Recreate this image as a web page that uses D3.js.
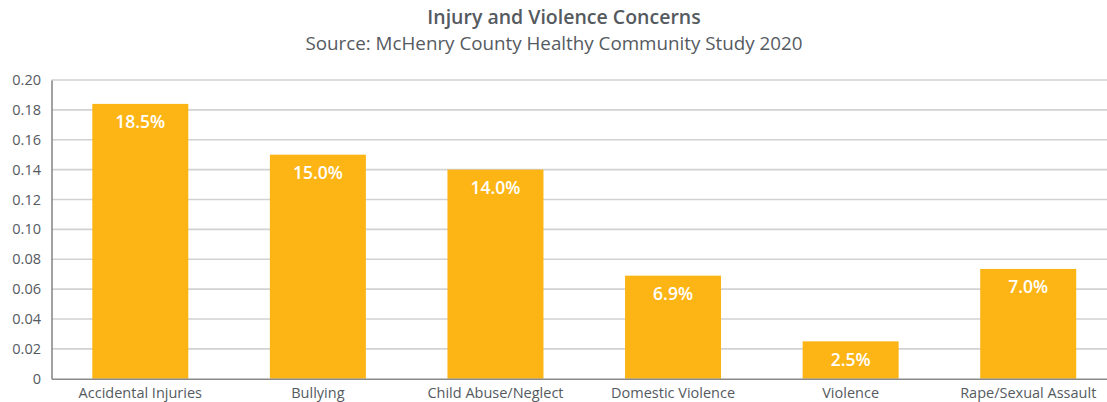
<!DOCTYPE html>
<html>
<head>
<meta charset="utf-8">
<script src="https://cdn.jsdelivr.net/npm/d3@7"></script>
<style>
  html, body { margin: 0; padding: 0; background: #fff; }
  svg { display: block; }
</style>
</head>
<body>
<svg id="chart" width="1107" height="402"></svg>
<script>
const categories = ["Accidental Injuries", "Bullying", "Child Abuse/Neglect", "Domestic Violence", "Violence", "Rape/Sexual Assault"];
const values = [0.184, 0.150, 0.140, 0.069, 0.025, 0.0735];
const valueLabels = ["18.5%", "15.0%", "14.0%", "6.9%", "2.5%", "7.0%"];
const yTicks = [0, 0.02, 0.04, 0.06, 0.08, 0.10, 0.12, 0.14, 0.16, 0.18, 0.20];
const titleText = "Injury and Violence Concerns";
const subtitleText = "Source: McHenry County Healthy Community Study 2020";

const svg = d3.select("#chart");
const font = "'Open Sans', sans-serif";
const textColor = "#555a5f";

const x = d3.scaleBand().domain(categories).range([51.5, 1117]).paddingInner(0.46).paddingOuter(0.23);
const y = d3.scaleLinear().domain([0, 0.2]).range([378.7, 80]);

// gridlines
svg.append("g").selectAll("line").data(yTicks.filter(d => d > 0)).join("line")
  .attr("x1", 51.5).attr("x2", 1107)
  .attr("y1", d => y(d)).attr("y2", d => y(d))
  .attr("stroke", "#d2d2d2").attr("stroke-width", 1.6);

// bars
svg.append("g").selectAll("rect").data(categories).join("rect")
  .attr("x", (d) => x(d) + x.bandwidth() / 2 - 48)
  .attr("width", 96)
  .attr("y", (d, i) => y(values[i]))
  .attr("height", (d, i) => y(0) - y(values[i]))
  .attr("fill", "#fdb515");

// value labels
svg.append("g").selectAll("text").data(categories).join("text")
  .attr("x", d => x(d) + x.bandwidth() / 2)
  .attr("y", (d, i) => y(values[i]) + 24.5)
  .attr("text-anchor", "middle")
  .attr("fill", "#ffffff")
  .attr("font-family", font)
  .attr("font-weight", 600)
  .attr("font-size", 17.5)
  .text((d, i) => valueLabels[i]);

// y axis
const yAxis = d3.axisLeft(y).tickValues(yTicks).tickSize(0).tickPadding(10.5)
  .tickFormat(d => d === 0 ? "0" : d3.format(".2f")(d));
const gy = svg.append("g").attr("transform", "translate(51.5,0)").call(yAxis);
gy.select(".domain").attr("stroke", "#8a8a8a").attr("stroke-width", 1.6);
gy.selectAll("text").attr("font-family", font).attr("font-size", 14.5).attr("fill", textColor);

// x axis
const xAxis = d3.axisBottom(x).tickSize(0).tickPadding(9);
const gx = svg.append("g").attr("transform", "translate(0,378.7)").call(xAxis);
gx.select(".domain").attr("stroke", "#8a8a8a").attr("stroke-width", 1.6);
gx.selectAll("text").attr("font-family", font).attr("font-size", 14.5).attr("fill", textColor);

// titles
svg.append("text").attr("x", 564).attr("y", 24).attr("text-anchor", "middle")
  .attr("font-family", font).attr("font-weight", 600).attr("font-size", 19.5)
  .attr("fill", textColor).text(titleText);
svg.append("text").attr("x", 554).attr("y", 50).attr("text-anchor", "middle")
  .attr("font-family", font).attr("font-size", 18.8)
  .attr("fill", textColor).text(subtitleText);
</script>
</body>
</html>
